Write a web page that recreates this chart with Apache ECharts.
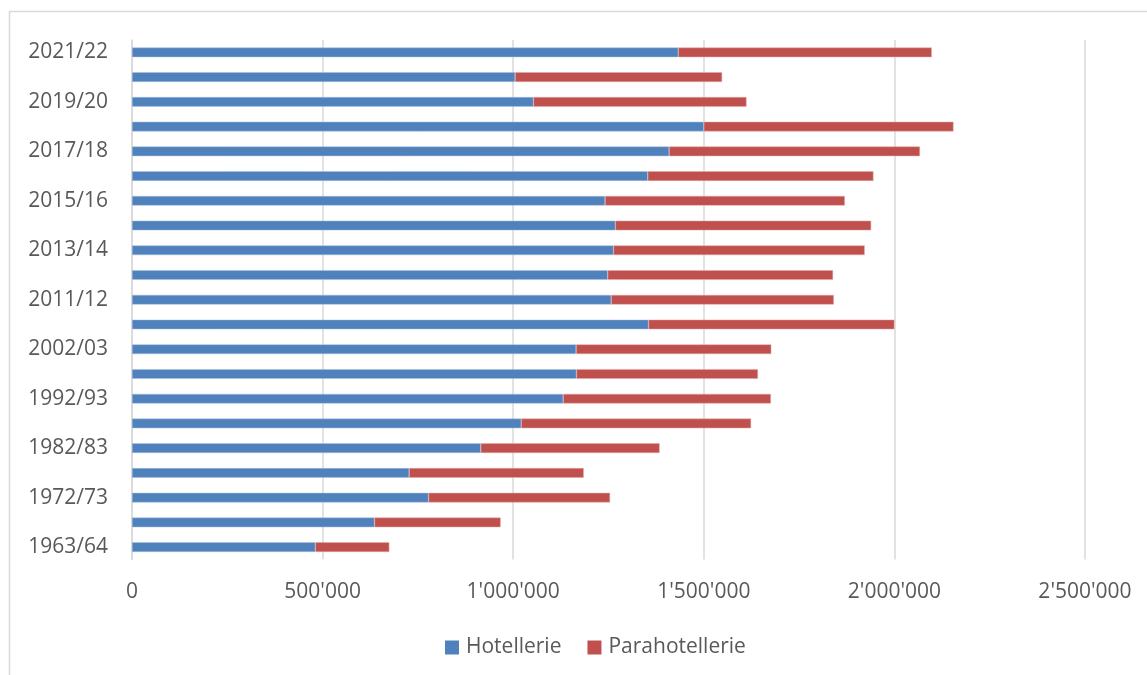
<!DOCTYPE html>
<html>
<head>
<meta charset="utf-8">
<script src="https://cdn.jsdelivr.net/npm/echarts@6/dist/echarts.min.js"></script>
<style>html,body{margin:0;padding:0;background:#fff}#c{width:1147px;height:675px}</style>
</head>
<body>
<div id="c"></div>
<script>
const categories = ['1963/64','1967/68','1972/73','1977/78','1982/83','1987/88','1992/93','1997/98','2002/03','2007/08','2011/12','2012/13','2013/14','2014/15','2015/16','2016/17','2017/18','2018/19','2019/20','2020/21','2021/22'];
const hotellerie = [481000,636000,778000,727000,915000,1021000,1131000,1166000,1165000,1355000,1257000,1248000,1263000,1268000,1241000,1353000,1409000,1500000,1053000,1005000,1433000];
const parahotellerie = [194000,331000,476000,458000,469000,603000,545000,476000,512000,645000,584000,591000,659000,671000,629000,592000,658000,655000,559000,543000,665000];
const xTicks = [0,500000,1000000,1500000,2000000,2500000];

const font = 'Open Sans';
const txt = '#595959';
const chart = echarts.init(document.getElementById('c'));
chart.setOption({
  animation: false,
  backgroundColor: '#fff',
  textStyle: {fontFamily: font},
  graphic: [{
    type: 'rect', shape: {x: 9.5, y: 11.5, width: 1200, height: 700},
    style: {fill: 'none', stroke: '#d9d9d9', lineWidth: 1.5}, silent: true, z: -1
  }],
  grid: {left: 132, right: 62, top: 40, bottom: 115.5, containLabel: false},
  legend: {
    left: 440, top: 632, itemWidth: 14, itemHeight: 14, itemGap: 26,
    icon: 'rect',
    itemStyle: {borderWidth: 0},
    textStyle: {color: txt, fontSize: 21, fontFamily: font, padding: [0, 0, 0, 2]},
    data: ['Hotellerie', 'Parahotellerie']
  },
  xAxis: {
    type: 'value', min: xTicks[0], max: xTicks[xTicks.length - 1], interval: 500000,
    axisLine: {show: false}, axisTick: {show: false},
    splitLine: {lineStyle: {color: '#d9d9d9', width: 1.5}},
    axisLabel: {
      color: txt, fontSize: 21, fontFamily: font, margin: 22,
      formatter: v => String(v).replace(/\B(?=(\d{3})+(?!\d))/g, "'")
    }
  },
  yAxis: {
    type: 'category', data: categories,
    axisLine: {lineStyle: {color: '#d9d9d9', width: 1.5}},
    axisTick: {show: false},
    axisLabel: {color: txt, fontSize: 21, fontFamily: font, margin: 24, interval: 1}
  },
  series: [
    {name: 'Hotellerie', type: 'bar', stack: 't', data: hotellerie, barWidth: '39%',
     itemStyle: {color: '#4f81bd', borderColor: '#a9c0df', borderWidth: 0.5}},
    {name: 'Parahotellerie', type: 'bar', stack: 't', data: parahotellerie, barWidth: '39%',
     itemStyle: {color: '#c0504d', borderColor: '#e0a8a6', borderWidth: 0.5}}
  ]
});
</script>
</body>
</html>
